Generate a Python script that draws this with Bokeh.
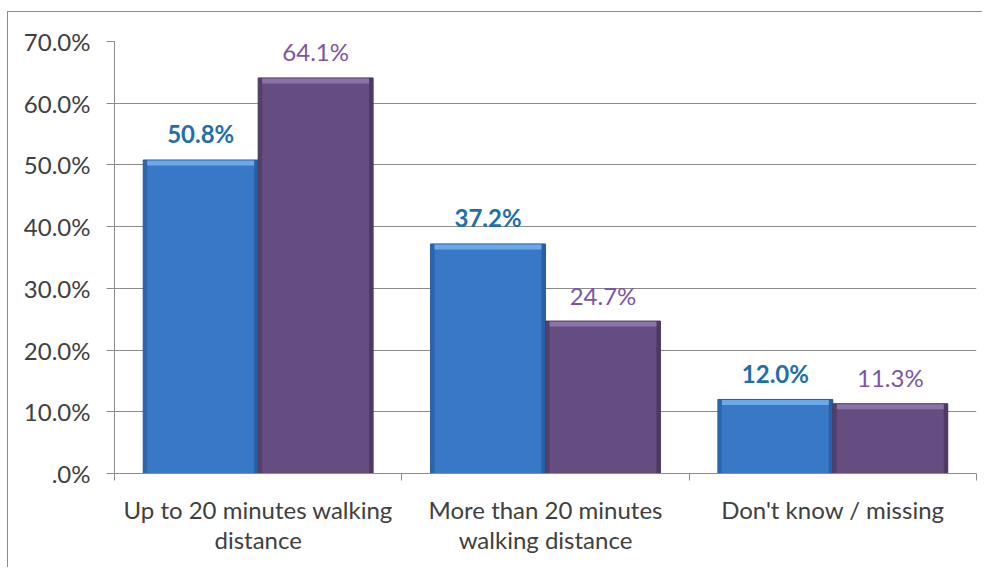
from bokeh.plotting import figure
from bokeh.models import FixedTicker, ColumnDataSource
from bokeh.core.properties import value
from bokeh.embed import file_html
from bokeh.resources import INLINE

categories = ["Up to 20 minutes walking\ndistance",
              "More than 20 minutes\nwalking distance",
              "Don't know / missing"]
series_a = [50.8, 37.2, 12.0]   # blue series
series_b = [64.1, 24.7, 11.3]   # purple series
labels_a = ["50.8%", "37.2%", "12.0%"]
labels_b = ["64.1%", "24.7%", "11.3%"]
y_ticks = [0, 10, 20, 30, 40, 50, 60, 70]
y_tick_labels = [".0%", "10.0%", "20.0%", "30.0%", "40.0%", "50.0%", "60.0%", "70.0%"]

FONT = "Lato"
n = len(categories)
BW = 0.4
EDGE = 0.014
xa = [i + 0.3 for i in range(n)]
xb = [i + 0.7 for i in range(n)]

p = figure(width=975, height=556, x_range=(0, n), y_range=(0, 70),
           output_backend="svg", toolbar_location=None,
           min_border_left=106, min_border_right=7,
           min_border_top=29, min_border_bottom=95)
p.margin = (11, 0, 0, 7)
p.styles = {"border-left": "1px solid #8c8c8c", "border-top": "1px solid #8c8c8c"}
p.outline_line_color = None
p.background_fill_color = "white"
p.border_fill_color = "white"


def bevel_bars(xs, tops, body, light, dark, outline):
    src = ColumnDataSource(dict(
        x=xs, top=tops,
        hl=[v - 0.9 for v in tops],
        xl=[x - BW / 2 + EDGE / 2 for x in xs],
        xr=[x + BW / 2 - EDGE / 2 for x in xs],
    ))
    p.vbar(x="x", top="top", bottom=0, width=BW, source=src,
           fill_color=body, line_color=None)
    p.vbar(x="xl", top="top", bottom=0, width=EDGE, source=src,
           fill_color=dark, fill_alpha=0.45, line_color=None)
    p.vbar(x="xr", top="top", bottom=0, width=EDGE, source=src,
           fill_color=dark, fill_alpha=0.6, line_color=None)
    p.vbar(x="x", top="top", bottom="hl", width=BW - 2 * EDGE, source=src,
           fill_color=light, line_color=None)
    p.vbar(x="x", top="top", bottom=0, width=BW, source=src,
           fill_color=None, line_color=outline, line_width=1)


bevel_bars(xa, series_a, "#3878c6", "#6aaaea", "#1f4f8f", "#2d5c9a")
bevel_bars(xb, series_b, "#664d81", "#8a73a6", "#3e2d52", "#4d3a62")

# data labels
src_la = ColumnDataSource(dict(x=xa, top=series_a, lab=labels_a))
src_lb = ColumnDataSource(dict(x=xb, top=series_b, lab=labels_b))
p.text(x="x", y="top", text="lab", source=src_la, y_offset=-26,
       text_align="center", text_baseline="middle",
       text_font=value(FONT), text_font_size="24px", text_font_style="bold",
       text_color="#1f6fa8")
p.text(x="x", y="top", text="lab", source=src_lb, y_offset=-26,
       text_align="center", text_baseline="middle",
       text_font=value(FONT), text_font_size="24px",
       text_color="#7d55a6")

# grid
p.xgrid.grid_line_color = None
p.ygrid.grid_line_color = "#8c8c8c"
p.ygrid.ticker = FixedTicker(ticks=y_ticks)

# y axis
p.yaxis.ticker = FixedTicker(ticks=y_ticks)
p.yaxis.major_label_overrides = {t: l for t, l in zip(y_ticks, y_tick_labels)}
p.yaxis.axis_line_color = "#8c8c8c"
p.yaxis.major_tick_line_color = "#8c8c8c"
p.yaxis.major_tick_out = 8
p.yaxis.major_tick_in = 0
p.yaxis.minor_tick_line_color = None
p.yaxis.major_label_text_font = FONT
p.yaxis.major_label_text_font_size = "24px"
p.yaxis.major_label_text_color = "#404040"
p.yaxis.major_label_standoff = 16

# x axis: labels at category centres, ticks at boundaries
centers = [i + 0.5 for i in range(n)]
p.xaxis.ticker = FixedTicker(ticks=centers, minor_ticks=list(range(n + 1)))
p.xaxis.major_label_overrides = {c: l for c, l in zip(centers, categories)}
p.xaxis.axis_line_color = "#8c8c8c"
p.xaxis.major_tick_line_color = None
p.xaxis.major_tick_out = 0
p.xaxis.major_tick_in = 0
p.xaxis.minor_tick_line_color = "#8c8c8c"
p.xaxis.minor_tick_out = 7
p.xaxis.minor_tick_in = 0
p.xaxis.major_label_text_font = FONT
p.xaxis.major_label_text_font_size = "24px"
p.xaxis.major_label_text_color = "#404040"
p.xaxis.major_label_text_line_height = 1.05
p.xaxis.major_label_standoff = 14

open("out.html", "w").write(file_html(p, INLINE))
